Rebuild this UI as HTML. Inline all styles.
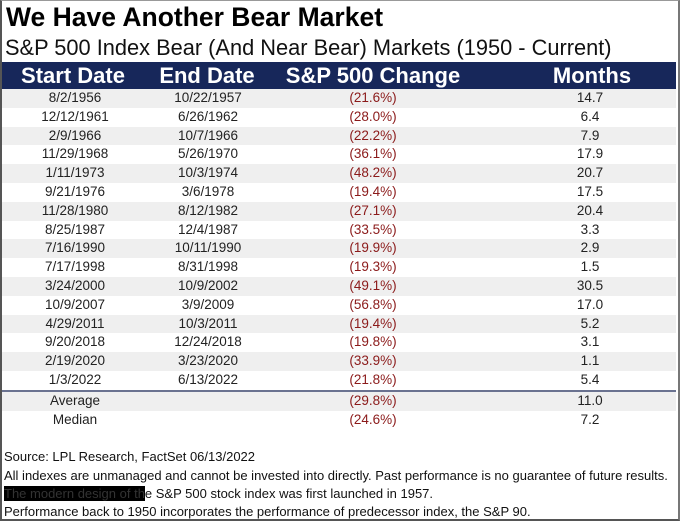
<!DOCTYPE html>
<html><head><meta charset="utf-8"><style>
*{margin:0;padding:0;box-sizing:border-box}
body{width:680px;height:521px;background:#fff;font-family:"Liberation Sans",Arial,sans-serif;position:relative;overflow:hidden}
.frame{position:absolute;left:0;top:0;width:680px;height:521px;border-left:2px solid #555;border-right:2px solid #777;border-bottom:2px solid #555;border-top:1px solid #999}
.t{position:absolute;white-space:nowrap}
.hdr{position:absolute;left:2px;top:62px;width:674px;height:27px;background:#17275a}
.h{position:absolute;top:62px;height:27px;line-height:27px;color:#fff;font-weight:bold;font-size:22px;transform:translateX(-50%);white-space:nowrap}
.row{position:absolute;left:2px;width:674px;height:18.8px}
.c{position:absolute;font-size:13.5px;line-height:18.8px;color:#222;transform:translateX(-50%);white-space:nowrap}
.r{color:#8b1a1a}
.f{position:absolute;left:4px;font-size:13px;color:#111;white-space:nowrap}
</style></head><body>
<div class="frame"></div>
<div class="t" style="left:6px;top:2px;font-size:26.5px;font-weight:bold;color:#000">We Have Another Bear Market</div>
<div class="t" style="left:5px;top:35px;font-size:21.8px;color:#111">S&amp;P 500 Index Bear (And Near Bear) Markets (1950 - Current)</div>
<div class="hdr"></div>
<div class="h" style="left:73px">Start Date</div>
<div class="h" style="left:207px">End Date</div>
<div class="h" style="left:373px">S&amp;P 500 Change</div>
<div class="h" style="left:592px">Months</div>
<div id="rows"></div>
<div style="position:absolute;left:2px;top:390px;width:674px;height:2px;background:#6a7290"></div>
<div class="f" style="top:449px">Source: LPL Research, FactSet 06/13/2022</div>
<div class="f" style="top:468px">All indexes are unmanaged and cannot be invested into directly. Past performance is no guarantee of future results.</div>
<div class="f" style="top:486px"><span style="background:#000;color:#333">The modern design of th</span>e S&amp;P 500 stock index was first launched in 1957.</div>
<div class="f" style="top:504px">Performance back to 1950 incorporates the performance of predecessor index, the S&amp;P 90.</div>
<script>
var d=[["8/2/1956","10/22/1957","(21.6%)","14.7"],["12/12/1961","6/26/1962","(28.0%)","6.4"],["2/9/1966","10/7/1966","(22.2%)","7.9"],["11/29/1968","5/26/1970","(36.1%)","17.9"],["1/11/1973","10/3/1974","(48.2%)","20.7"],["9/21/1976","3/6/1978","(19.4%)","17.5"],["11/28/1980","8/12/1982","(27.1%)","20.4"],["8/25/1987","12/4/1987","(33.5%)","3.3"],["7/16/1990","10/11/1990","(19.9%)","2.9"],["7/17/1998","8/31/1998","(19.3%)","1.5"],["3/24/2000","10/9/2002","(49.1%)","30.5"],["10/9/2007","3/9/2009","(56.8%)","17.0"],["4/29/2011","10/3/2011","(19.4%)","5.2"],["9/20/2018","12/24/2018","(19.8%)","3.1"],["2/19/2020","3/23/2020","(33.9%)","1.1"],["1/3/2022","6/13/2022","(21.8%)","5.4"],["Average","","(29.8%)","11.0"],["Median","","(24.6%)","7.2"]];
var h="";
d.forEach(function(r,i){var top=i<16?89+i*18.8:392+(i-16)*19;
var bg=(i<16&&i%2==0)||i==16?"#efefef":"#fff";
h+='<div class="row" style="top:'+top+'px;background:'+bg+'"></div>';
var xs=[75,208,373,590];
r.forEach(function(v,j){h+='<div class="c'+(j==2?' r':'')+'" style="top:'+top+'px;left:'+xs[j]+'px">'+v+'</div>';});});
document.getElementById("rows").innerHTML=h;
</script>
</body></html>
